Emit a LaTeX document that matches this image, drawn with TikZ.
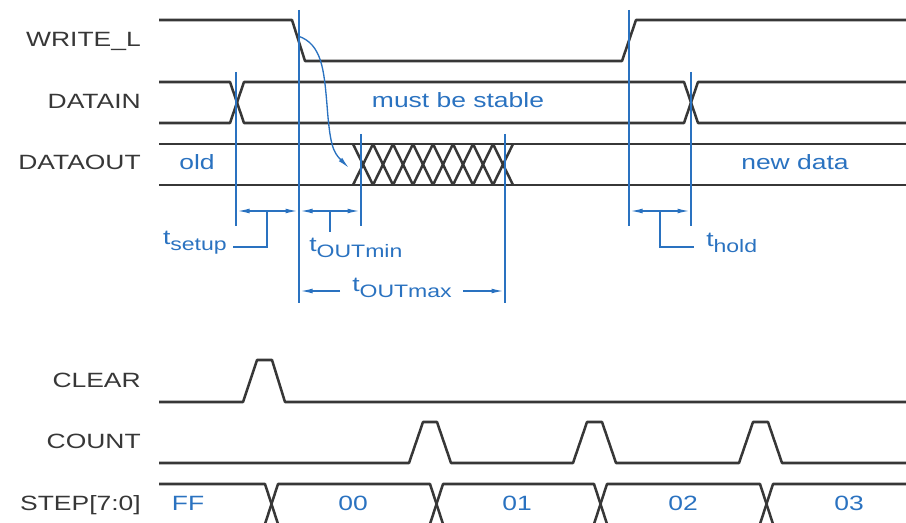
\documentclass[tikz,border=0pt]{standalone}
\usepackage{fontspec}
\setmainfont{Liberation Sans}[FakeStretch=1.28]
\usetikzlibrary{arrows.meta}
\definecolor{sig}{RGB}{55,55,55}
\definecolor{ann}{RGB}{42,114,192}
\newcommand{\tsub}[1]{t\raisebox{-0.55ex}{\fontsize{13.5}{15}\selectfont #1}}
\begin{document}
\begin{tikzpicture}[x=0.75pt,y=-0.75pt,
  font=\fontsize{15.5}{18}\selectfont,
  sigline/.style={draw=sig,line width=1.9pt,line join=round},
  annline/.style={draw=ann,line width=1pt},
  tip/.style={-{Latex[length=9pt,width=3.6pt]}},
  dimarrow/.style={annline,{Latex[length=9pt,width=3.6pt]}-{Latex[length=9pt,width=3.6pt]}},
  siglabel/.style={anchor=east,text=sig,inner sep=0pt},
  annlabel/.style={text=ann,inner sep=0pt}]
\useasboundingbox (0,0) rectangle (906,523);

% signal names
\node[siglabel] (nW) at (141,41) {WRITE\_L};
\node[siglabel] (nDI) at (141,101) {DATAIN};
\node[siglabel] (nDO) at (141,162) {DATAOUT};
\node[siglabel] (nC) at (141,380) {CLEAR};
\node[siglabel] (nCT) at (141,441) {COUNT};
\node[siglabel] (nS) at (141,505) {STEP[7:0]};

% WRITE_L
\draw[sigline] (159,20) -- (292,20) -- (305,61) -- (622,61) -- (636,20) -- (906,20);
% DATAIN
\draw[sigline] (159,82) -- (230,82) -- (244,123) -- (684,123) -- (698,82) -- (906,82);
\draw[sigline] (159,123) -- (230,123) -- (244,82) -- (684,82) -- (698,123) -- (906,123);
% DATAOUT
\draw[sigline] (159,144) -- (906,144);
\draw[sigline] (159,185) -- (906,185);
\foreach \k in {0,...,7}{
  \draw[sigline] ({353+20*\k},144) -- ({373+20*\k},185);
  \draw[sigline] ({353+20*\k},185) -- ({373+20*\k},144);
}
% CLEAR
\draw[sigline] (159,402) -- (243,402) -- (257,360) -- (272,360) -- (285,402) -- (906,402);
% COUNT
\draw[sigline] (159,463) -- (409,463) -- (423,422) -- (437,422) -- (451,463)
  -- (573,463) -- (587,422) -- (602,422) -- (616,463)
  -- (739,463) -- (753,422) -- (768,422) -- (782,463) -- (906,463);
% STEP
\draw[sigline] (159,484) -- (265,484) -- (278,524);
\draw[sigline] (265,524) -- (278,484) -- (430,484) -- (443,524);
\draw[sigline] (430,524) -- (443,484) -- (594,484) -- (607,524);
\draw[sigline] (594,524) -- (607,484) -- (760,484) -- (773,524);
\draw[sigline] (760,524) -- (773,484) -- (906,484);

% blue reference lines
\coordinate (a1) at (236,72);  \coordinate (b1) at (236,226);
\coordinate (a2) at (299,10);  \coordinate (b2) at (299,303);
\coordinate (a3) at (361,134); \coordinate (b3) at (361,226);
\coordinate (a4) at (505,134); \coordinate (b4) at (505,303);
\coordinate (a5) at (629,10);  \coordinate (b5) at (629,226);
\coordinate (a6) at (691,72);  \coordinate (b6) at (691,226);
\foreach \i in {1,...,6}{\draw[annline] (a\i) -- (b\i);}

% tsetup
\coordinate (s1) at (237.5,211); \coordinate (s2) at (297.5,211);
\draw[dimarrow] (s1) -- (s2);
\coordinate (sk) at (267,211); \coordinate (sl) at (233,247);
\draw[annline] (sk) |- (sl);
\node[annlabel,anchor=east] (lsetup) at (227,243) {\tsub{setup}};

% tOUTmin
\coordinate (m1) at (300.5,211); \coordinate (m2) at (359.5,211);
\draw[dimarrow] (m1) -- (m2);
\coordinate (mk) at (330,211); \coordinate (ml) at (330,232);
\draw[annline] (mk) -- (ml);
\node[annlabel,anchor=west] (lmin) at (309,248) {\tsub{OUTmin}};

% tOUTmax
\node[annlabel] (lmax) at (402,288) {\tsub{OUTmax}};
\coordinate (x1) at (340,291); \coordinate (x2) at (300.5,291);
\coordinate (x3) at (463,291); \coordinate (x4) at (503.5,291);
\draw[annline,tip] (x1) -- (x2);
\draw[annline,tip] (x3) -- (x4);

% thold
\coordinate (h1) at (630.5,211); \coordinate (h2) at (689.5,211);
\draw[dimarrow] (h1) -- (h2);
\coordinate (hk) at (660,211); \coordinate (hl) at (694,247);
\draw[annline] (hk) |- (hl);
\node[annlabel,anchor=west] (lhold) at (706,243) {\tsub{hold}};

% causal arrow
\coordinate (c0) at (298,36);
\coordinate (c1) at (349,168);
\draw[annline,tip] (c0) .. controls (322,44) and (324,70) .. (327,105)
  .. controls (330,145) and (333,152) .. (c1);

% data labels
\node[annlabel] (tstable) at (458,100) {must be stable};
\node[annlabel] (told) at (197,162) {old};
\node[annlabel] (tnew) at (795,162) {new data};
\node[annlabel] (tFF) at (188,503) {FF};
\node[annlabel] (t00) at (353,503) {00};
\node[annlabel] (t01) at (517,503) {01};
\node[annlabel] (t02) at (683,503) {02};
\node[annlabel] (t03) at (849,503) {03};
\end{tikzpicture}
\end{document}
